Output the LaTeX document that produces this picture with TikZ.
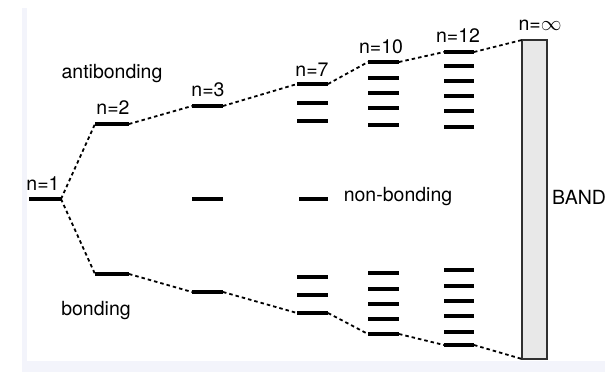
\documentclass[tikz,border=0pt]{standalone}
\usepackage{fontspec}
\setmainfont{TeX Gyre Heros}
\definecolor{framec}{HTML}{F3F4FB}
\definecolor{bandfill}{HTML}{E8E8E8}
\definecolor{bandline}{HTML}{303030}
\begin{document}
\begin{tikzpicture}[x=1pt,y=-1pt,
  level/.style={line width=4.5pt,black},
  conn/.style={line width=1.8pt,black,dash pattern=on 3.5pt off 3pt},
  lbl/.style={font=\fontsize{19.5}{22}\selectfont,inner sep=0pt,anchor=center}]
\useasboundingbox (0,0) rectangle (605,372);
\fill[white] (0,0) rectangle (605,372);
\fill[framec] (22,8) rectangle (605,372);
\fill[white] (27,8) rectangle (605,361);
% n=1
\coordinate (n1l) at (29,199); \coordinate (n1r) at (61,199);
\draw[level] (n1l) -- (n1r);
\node[lbl] (L1) at (43,184) {n=1};
% n=2
\coordinate (a2l) at (95,124); \coordinate (a2r) at (129,124);
\coordinate (b2l) at (95,274); \coordinate (b2r) at (129,274);
\draw[level] (a2l) -- (a2r);
\draw[level] (b2l) -- (b2r);
\node[lbl] (L2) at (113,108) {n=2};
% n=3
\coordinate (a3l) at (192,106); \coordinate (a3r) at (223,106);
\coordinate (m3l) at (192,199); \coordinate (m3r) at (223,199);
\coordinate (b3l) at (192,292); \coordinate (b3r) at (223,292);
\draw[level] (a3l) -- (a3r);
\draw[level] (m3l) -- (m3r);
\draw[level] (b3l) -- (b3r);
\node[lbl] (L3) at (208,90) {n=3};
% n=7
\coordinate (a7l) at (297,84); \coordinate (a7r) at (328,84);
\coordinate (b7l) at (297,313); \coordinate (b7r) at (328,313);
\draw[level] (a7l) -- (a7r);
\foreach \y in {103,121,277,295} \draw[level] (297,\y) -- (328,\y);
\draw[level] (b7l) -- (b7r);
\coordinate (m7l) at (299,199); \coordinate (m7r) at (328,199);
\draw[level] (m7l) -- (m7r);
\node[lbl] (L7) at (312,70) {n=7};
% n=10
\coordinate (a10l) at (368,62); \coordinate (a10r) at (399,62);
\coordinate (b10l) at (368,334); \coordinate (b10r) at (399,334);
\draw[level] (a10l) -- (a10r);
\foreach \y in {78,93,108,125,273,289,304,319} \draw[level] (368,\y) -- (399,\y);
\draw[level] (b10l) -- (b10r);
\node[lbl] (L10) at (381,47) {n=10};
% n=12
\coordinate (a12l) at (444,52); \coordinate (a12r) at (474,52);
\coordinate (b12l) at (444,345); \coordinate (b12r) at (474,345);
\draw[level] (a12l) -- (a12r);
\foreach \y in {66,81,96,111,127,270,286,301,316,332} \draw[level] (444,\y) -- (474,\y);
\draw[level] (b12l) -- (b12r);
\node[lbl] (L12) at (458,36) {n=12};
% band
\draw[bandline,fill=bandfill,line width=1.8pt] (522,40) rectangle (547,359);
\coordinate (bandtop) at (522,40); \coordinate (bandbot) at (522,359);
\node[lbl] (Linf) at (540,25) {n=$\infty$};
\node[lbl,anchor=west] (band) at (552,197) {BAND};
% connectors
\draw[conn] (n1r) -- (a2l);
\draw[conn] (n1r) -- (b2l);
\draw[conn] (a2r) -- (a3l);
\draw[conn] (a3r) -- (a7l);
\draw[conn] (a7r) -- (a10l);
\draw[conn] (a10r) -- (a12l);
\draw[conn] (a12r) -- (bandtop);
\draw[conn] (b2r) -- (b3l);
\draw[conn] (b3r) -- (b7l);
\draw[conn] (b7r) -- (b10l);
\draw[conn] (b10r) -- (b12l);
\draw[conn] (b12r) -- (bandbot);
% labels
\node[lbl] (anti) at (112,74) {antibonding};
\node[lbl] (bond) at (96,311) {bonding};
\node[lbl] (nonb) at (398,197) {non-bonding};
\end{tikzpicture}
\end{document}
